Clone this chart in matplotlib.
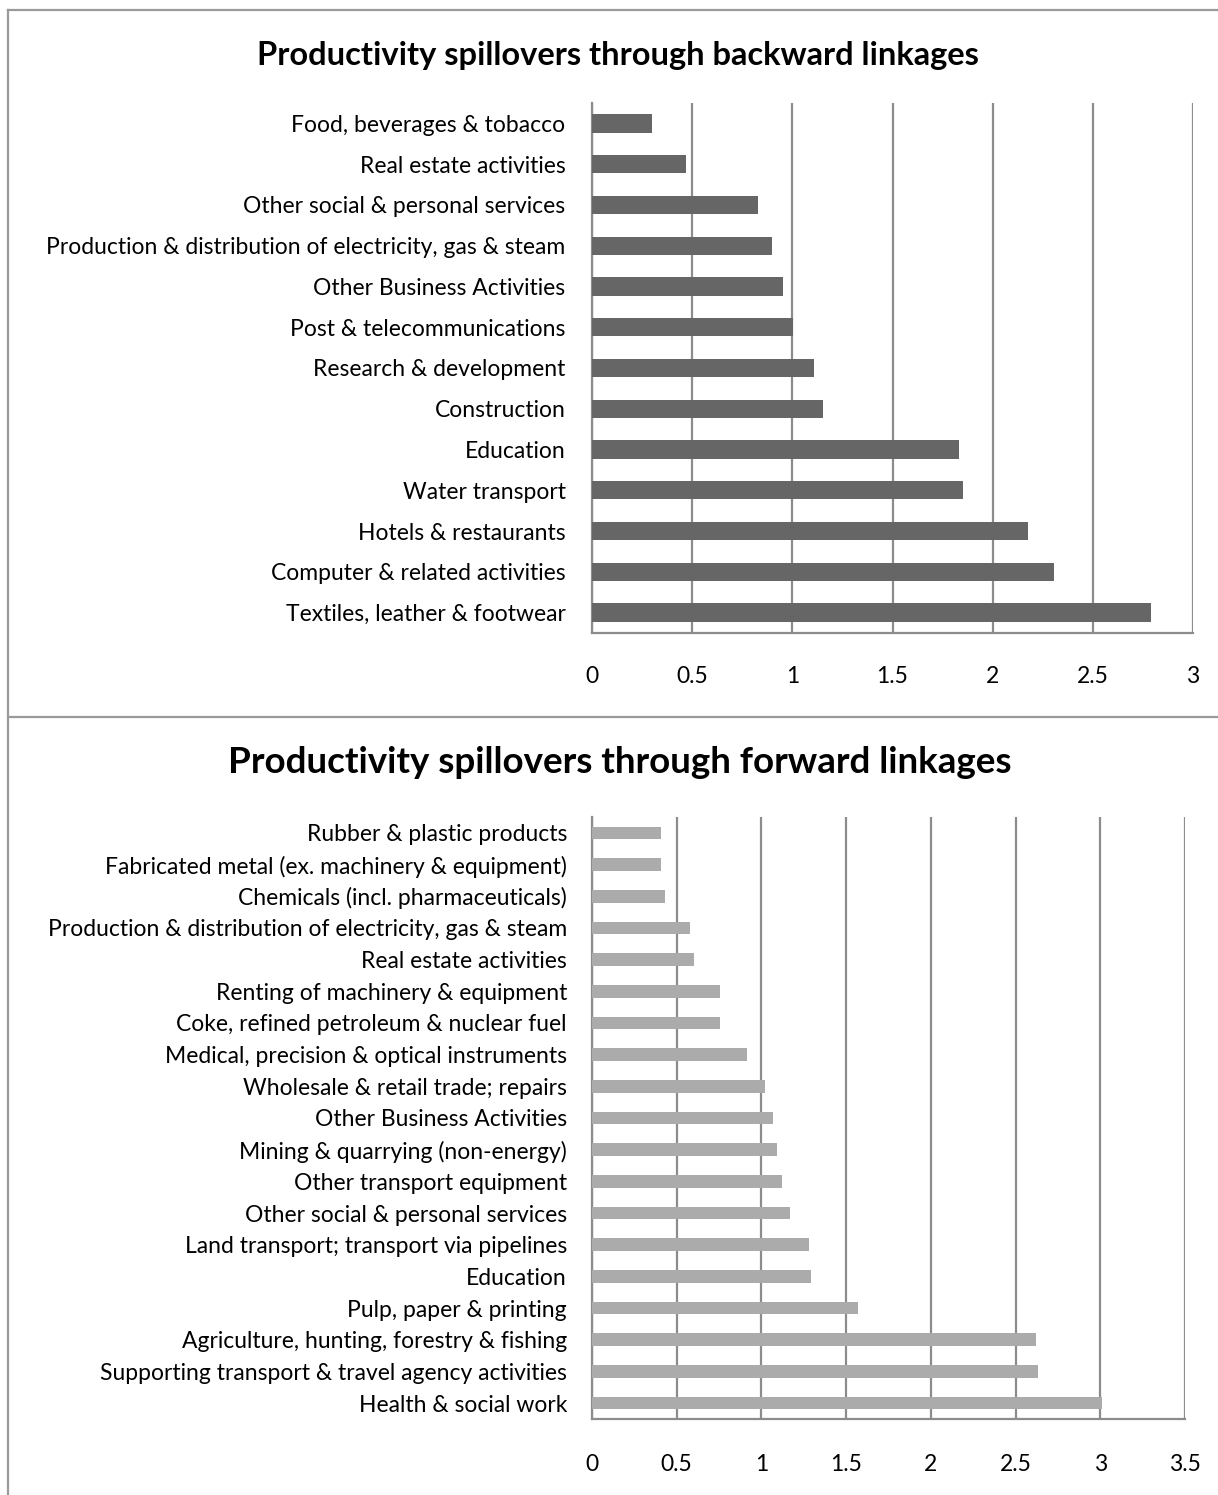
import matplotlib
matplotlib.use("Agg")
import matplotlib.pyplot as plt
from matplotlib.lines import Line2D

plt.rcParams["font.family"] = ["Lato", "DejaVu Sans"]

# backward linkages (top chart, listed top to bottom)
back_labels = [
    "Food, beverages & tobacco",
    "Real estate activities",
    "Other social & personal services",
    "Production & distribution of electricity, gas & steam",
    "Other Business Activities",
    "Post & telecommunications",
    "Research & development",
    "Construction",
    "Education",
    "Water transport",
    "Hotels & restaurants",
    "Computer & related activities",
    "Textiles, leather & footwear",
]
back_values = [0.30, 0.47, 0.83, 0.90, 0.955, 1.005, 1.11, 1.155,
               1.834, 1.854, 2.175, 2.307, 2.788]
back_ticks = [0, 0.5, 1, 1.5, 2, 2.5, 3]

# forward linkages (bottom chart, listed top to bottom)
fwd_labels = [
    "Rubber & plastic products",
    "Fabricated metal (ex. machinery & equipment)",
    "Chemicals (incl. pharmaceuticals)",
    "Production & distribution of electricity, gas & steam",
    "Real estate activities",
    "Renting of machinery & equipment",
    "Coke, refined petroleum & nuclear fuel",
    "Medical, precision & optical instruments",
    "Wholesale & retail trade; repairs",
    "Other Business Activities",
    "Mining & quarrying (non-energy)",
    "Other transport equipment",
    "Other social & personal services",
    "Land transport; transport via pipelines",
    "Education",
    "Pulp, paper & printing",
    "Agriculture, hunting, forestry & fishing",
    "Supporting transport & travel agency activities",
    "Health & social work",
]
fwd_values = [0.41, 0.41, 0.432, 0.578, 0.60, 0.757, 0.757, 0.914, 1.024,
              1.069, 1.093, 1.124, 1.169, 1.281, 1.293, 1.572, 2.62, 2.632, 3.011]
fwd_ticks = [0, 0.5, 1, 1.5, 2, 2.5, 3, 3.5]

W, H = 1218, 1495
fig = plt.figure(figsize=(W / 100, H / 100), dpi=100)

grid_col = "#8c8c8c"


def panel(rect, labels, values, ticks, color, bar_h, lab_size, pad, xpad):
    ax = fig.add_axes(rect)
    y = list(range(len(labels)))
    ax.barh(y, values, height=bar_h, color=color, zorder=3)
    ax.set_ylim(len(labels) - 0.5, -0.5)
    ax.set_xlim(ticks[0], ticks[-1])
    ax.set_xticks(ticks)
    ax.set_xticklabels([f"{t:g}" for t in ticks])
    ax.set_yticks(y)
    ax.set_yticklabels(labels)
    ax.xaxis.grid(True, color=grid_col, linewidth=1.6, zorder=0)
    ax.tick_params(axis="both", length=0, labelsize=lab_size, colors="black")
    ax.tick_params(axis="y", pad=pad)
    ax.tick_params(axis="x", pad=xpad)
    for s in ["top", "right"]:
        ax.spines[s].set_visible(False)
    for s in ["left", "bottom"]:
        ax.spines[s].set_color(grid_col)
        ax.spines[s].set_linewidth(1.6)
    return ax


panel([592 / W, 1 - 633 / H, (1193 - 592) / W, (633 - 103) / H],
      back_labels, back_values, back_ticks, "#666666", 0.45, 16.5, 19, 24)
panel([592 / W, 1 - 1419 / H, (1185 - 592) / W, (1419 - 817) / H],
      fwd_labels, fwd_values, fwd_ticks, "#ababab", 0.4, 16.5, 18, 25)

fig.text(617.5 / W, 1 - 55 / H, "Productivity spillovers through backward linkages",
         ha="center", va="center", fontsize=23.5, fontweight="bold")
fig.text(619.5 / W, 1 - 763 / H, "Productivity spillovers through forward linkages",
         ha="center", va="center", fontsize=26.5, fontweight="bold")

# chart borders
bc = "#9a9a9a"
fig.add_artist(Line2D([8 / W, 1], [1 - 10 / H, 1 - 10 / H], color=bc, lw=1.6))
fig.add_artist(Line2D([8 / W, 1], [1 - 717 / H, 1 - 717 / H], color=bc, lw=1.6))
fig.add_artist(Line2D([8 / W, 8 / W], [0, 1 - 10 / H], color=bc, lw=1.6))

fig.savefig("out.png", dpi=100)
